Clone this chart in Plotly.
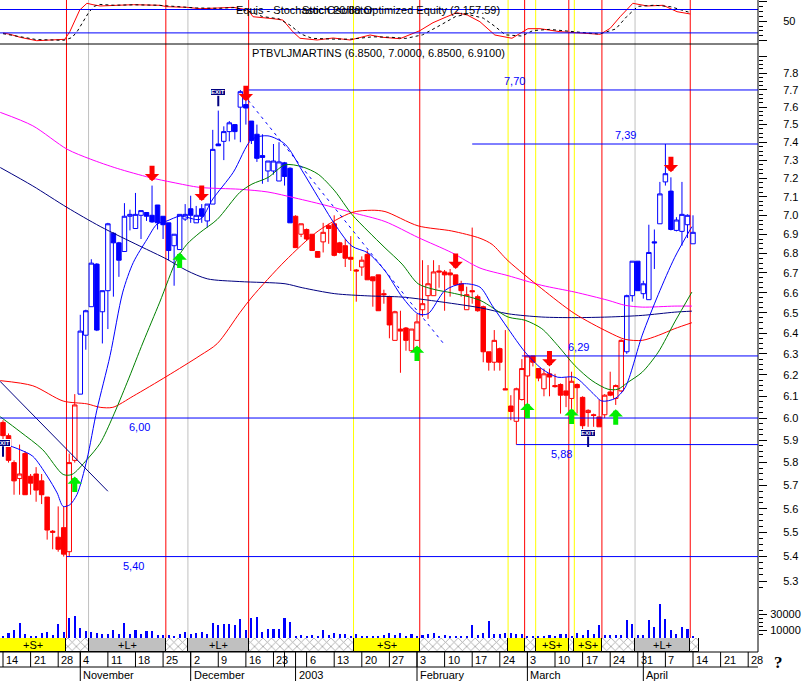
import math
import plotly.graph_objects as go

# ---------------- data ----------------
opens = [5.98, 5.92, 5.80, 5.73, 5.84, 5.74, 5.75, 5.72, 5.65, 5.50,
         5.48, 5.52, 5.42, 5.81, 6.11, 6.39, 6.53, 6.745, 6.505, 6.61,
         6.905, 6.855, 6.81, 6.995, 6.93, 7.0, 7.015, 7.0, 7.055, 6.995,
         6.96, 6.84, 6.82, 6.98, 7.035, 6.96, 7.035, 6.97, 7.06, 7.39,
         7.405, 7.46, 7.5, 7.60, 7.615, 7.52, 7.445, 7.325, 7.24, 7.24,
         7.185, 7.285, 7.255, 6.995, 6.9, 6.925, 6.9, 6.81, 6.86, 6.945,
         6.955, 6.855, 6.84, 6.78, 6.715, 6.73, 6.795, 6.68, 6.69, 6.595,
         6.58, 6.365, 6.42, 6.425, 6.315, 6.365, 6.515, 6.585, 6.585, 6.71,
         6.705, 6.70, 6.69, 6.645, 6.515, 6.61, 6.58, 6.53, 6.31, 6.26,
         6.325, 6.135, 6.055, 5.985, 6.085, 6.195, 6.29, 6.23, 6.135, 6.205,
         6.15, 6.155, 6.125, 6.09, 6.155, 6.095, 6.025, 6.015, 6.005, 6.015,
         6.12, 6.09, 6.125, 6.31, 6.585, 6.76, 6.595, 6.565, 6.86, 6.955,
         7.18, 7.13, 6.92, 6.915, 6.95, 6.85]
highs = [5.99, 5.93, 5.81, 5.88, 5.85, 5.75, 5.78, 5.75, 5.65, 5.51,
         5.61, 5.61, 5.84, 6.11, 6.49, 6.515, 6.77, 6.75, 6.61, 6.96,
         6.91, 6.86, 7.065, 7.03, 7.12, 7.025, 7.015, 7.16, 7.055, 6.995,
         6.96, 6.9, 7.005, 7.06, 7.105, 7.05, 7.06, 7.06, 7.47, 7.58,
         7.49, 7.52, 7.5, 7.70, 7.64, 7.52, 7.50, 7.445, 7.295, 7.39,
         7.40, 7.29, 7.26, 7.0, 6.955, 6.93, 6.9, 6.81, 6.96, 6.955,
         7.0, 6.86, 6.875, 6.89, 6.72, 6.785, 6.815, 6.68, 6.69, 6.615,
         6.585, 6.51, 6.51, 6.43, 6.42, 6.495, 6.765, 6.74, 6.765, 6.74,
         6.715, 6.72, 6.69, 6.66, 6.63, 6.935, 6.59, 6.535, 6.31, 6.415,
         6.33, 6.415, 6.105, 6.14, 6.275, 6.29, 6.29, 6.23, 6.23, 6.23,
         6.205, 6.16, 6.19, 6.215, 6.16, 6.10, 6.04, 6.02, 6.085, 6.11,
         6.215, 6.155, 6.37, 6.59, 6.76, 6.76, 6.66, 6.95, 6.925, 7.18,
         7.39, 7.205, 6.99, 7.18, 7.005, 7.0]
lows = [5.90, 5.80, 5.66, 5.66, 5.66, 5.66, 5.63, 5.62, 5.47, 5.43,
        5.42, 5.40, 5.40, 5.80, 6.11, 6.32, 6.53, 6.41, 6.35, 6.42,
        6.58, 6.68, 6.81, 6.92, 6.93, 6.875, 6.97, 6.96, 6.925, 6.875,
        6.765, 6.635, 6.82, 6.97, 6.96, 6.96, 6.96, 6.935, 7.06, 7.38,
        7.30, 7.405, 7.415, 7.40, 7.50, 7.39, 7.29, 7.17, 7.18, 7.22,
        7.185, 7.16, 6.96, 6.83, 6.885, 6.865, 6.815, 6.78, 6.805, 6.85,
        6.785, 6.80, 6.73, 6.71, 6.555, 6.685, 6.665, 6.53, 6.51, 6.545,
        6.375, 6.365, 6.21, 6.315, 6.31, 6.365, 6.48, 6.47, 6.585, 6.625,
        6.51, 6.58, 6.64, 6.58, 6.515, 6.545, 6.505, 6.26, 6.22, 6.22,
        6.22, 6.13, 5.99, 5.88, 6.08, 6.05, 6.24, 6.17, 6.10, 6.10,
        6.14, 6.02, 6.05, 6.035, 6.02, 5.945, 5.96, 5.96, 5.96, 6.0,
        6.10, 6.06, 6.12, 6.30, 6.555, 6.61, 6.57, 6.565, 6.72, 6.955,
        7.16, 6.92, 6.915, 6.84, 6.88, 6.85]
closes = [5.92, 5.81, 5.72, 5.75, 5.66, 5.71, 5.68, 5.66, 5.51, 5.505,
          5.43, 5.41, 5.80, 6.06, 6.41, 6.51, 6.75, 6.415, 6.61, 6.955,
          6.855, 6.765, 6.995, 7.005, 7.005, 7.025, 6.995, 6.965, 6.96, 6.95,
          6.815, 6.9, 7.005, 7.005, 7.0, 7.0, 6.995, 7.06, 7.36, 7.38,
          7.46, 7.51, 7.46, 7.69, 7.595, 7.41, 7.31, 7.315, 7.295, 7.295,
          7.29, 7.21, 6.96, 6.83, 6.955, 6.875, 6.815, 6.78, 6.91, 6.93,
          6.79, 6.805, 6.775, 6.77, 6.71, 6.765, 6.665, 6.66, 6.51, 6.59,
          6.44, 6.505, 6.41, 6.365, 6.42, 6.455, 6.545, 6.645, 6.705, 6.705,
          6.69, 6.69, 6.64, 6.61, 6.59, 6.605, 6.51, 6.31, 6.26, 6.365,
          6.26, 6.13, 6.03, 6.135, 6.23, 6.29, 6.26, 6.185, 6.205, 6.19,
          6.145, 6.105, 6.105, 6.17, 6.14, 5.965, 6.035, 6.012, 5.96, 6.105,
          6.105, 6.15, 6.365, 6.585, 6.76, 6.61, 6.645, 6.805, 6.855, 7.115,
          7.225, 6.925, 6.975, 7.005, 7.0, 6.91]
volumes = [2500, 6400, 9800, 19600, 4700, 1300, 2000, 6400, 7600, 3300,
           17500, 8000, 26000, 28000, 13000, 9000, 8000, 6400, 4700, 5500,
           9800, 5500, 19500, 5500, 9800, 5500, 9000, 9000, 3300, 4200,
           4200, 2500, 5500, 8000, 5500, 6400, 8000, 5500, 19600, 17000,
           17500, 17500, 17000, 23800, 9800, 26000, 26500, 8000, 11500, 11000,
           12000, 26000, 20500, 1300, 3300, 2500, 3300, 2000, 9800, 3300,
           6400, 5500, 5500, 1300, 4700, 2500, 2500, 2500, 2500, 3300,
           6400, 4200, 6400, 2500, 4700, 1300, 4200, 5500, 6400, 2000,
           3300, 2500, 2500, 2500, 2000, 17000, 3300, 6400, 21300, 4700,
           4700, 6400, 6400, 5500, 5500, 2000, 2500, 2500, 2500, 3300,
           2500, 4700, 4700, 2000, 6400, 4200, 9800, 5500, 16200, 4200,
           3300, 4200, 4200, 22500, 18300, 4200, 4200, 22500, 14000, 43800,
           24700, 9800, 5500, 14000, 11500, 1300]

blue_spans = [(14, 52), (113, 125)]   # bars drawn in blue; all others red

# stochastic oscillator (%K red, %D black dashed)
stoch_k_x = [0, 1.3, 3.1, 6.1, 11.2, 12.1, 13.9, 15.2, 16.3, 17.6,
             20.7, 23.6, 28.4, 29.7, 33.3, 35.7, 38.8, 41.7, 44.4, 45.3,
             48.9, 50.7, 52.5, 53.8, 56.9, 59.8, 62.9, 66.5, 68.8, 71.9,
             75.5, 77.9, 80.4, 82.2, 84.1, 86.4, 89.1, 92.2, 95.1, 97.3,
             100.9, 104.5, 108.2, 110.0, 111.8, 114.1, 116.7, 119.6, 122.1, 124.5]
stoch_k = [19.7, 16.4, 8.7, 0, 3.6, 23, 78.7, 95.9, 92.3, 89,
           90.8, 92.3, 90.8, 87.2, 85.6, 82, 83.8, 85.6, 78.7, 61.5,
           56.4, 53, 23, 6.2, 1.8, 6.9, 1.8, 14.6, 8.7, 5.1,
           25.6, 46.2, 61.5, 71.8, 65.9, 48.7, 14.6, 6.2, 30.8, 30.8,
           23.1, 20.5, 16.4, 31.8, 61.5, 95.9, 89, 90.8, 74.4, 68.5]
stoch_d_x = [0, 2, 6, 11, 12.5, 13.5, 14.5, 15.5, 16.5, 17.5,
             20, 24, 28, 31, 35, 39, 42, 45, 47, 50,
             52, 54, 56, 60, 63, 67, 70, 73, 76, 79,
             82, 84, 87, 89, 91, 94, 96, 99, 102, 105,
             108, 111, 113, 115, 118, 121, 123, 124.5]
stoch_d = [18, 13, 3, 1, 8, 25, 50, 72, 88, 93,
           91, 92, 91, 88, 84, 83, 85, 73, 62, 56,
           40, 17, 6, 4, 4, 10, 9, 6, 15, 38,
           62, 68, 58, 38, 15, 12, 26, 29, 25, 20,
           17, 30, 62, 88, 91, 87, 78, 72]

# moving averages (bar index, price)
ma_blue_x = [-0.5, 3.1, 5.4, 8.0, 9.8, 10.9, 12.1, 13.4, 15.2, 17.0,
             19.4, 21.7, 23.6, 26.1, 27.9, 29.7, 32.1, 35.7, 38.0, 41.7,
             45.1, 48.0, 51.1, 54.2, 57.1, 60.1, 63.2, 66.1, 69.2, 72.3,
             75.2, 77.0, 80.1, 83.2, 86.4, 88.6, 91.5, 94.6, 97.6, 100.5,
             103.6, 106.7, 108.5, 110.9, 112.7, 115.8, 118.7, 121.7, 124.8]
ma_blue_y = [5.89, 5.857, 5.828, 5.741, 5.668, 5.61, 5.617, 5.661, 5.813, 6.036,
             6.292, 6.603, 6.753, 6.874, 6.953, 6.97, 6.996, 6.979, 7.087, 7.232,
             7.417, 7.436, 7.389, 7.241, 7.096, 6.953, 6.838, 6.803, 6.711, 6.579,
             6.495, 6.495, 6.612, 6.645, 6.628, 6.537, 6.422, 6.308, 6.229, 6.189,
             6.189, 6.118, 6.078, 6.09, 6.14, 6.39, 6.59, 6.78, 6.94]
ma_green_x = [-0.5, 3.1, 7.2, 10.9, 12.5, 15.2, 17.6, 19.9, 22.5, 25.4,
              28.4, 31.5, 33.3, 35.7, 38.8, 42.9, 45.1, 48.0, 51.1, 54.2,
              57.1, 60.1, 63.2, 66.1, 69.2, 72.3, 75.2, 78.3, 81.3, 86.4,
              91.5, 94.6, 97.6, 100.5, 103.6, 106.7, 109.6, 111.4, 113.2, 115.8,
              118.7, 121.7, 124.8]
ma_green_y = [6.006, 5.938, 5.857, 5.748, 5.748, 5.813, 5.886, 6.006, 6.165, 6.357,
              6.553, 6.77, 6.847, 6.909, 6.978, 7.123, 7.168, 7.204, 7.274, 7.263,
              7.222, 7.131, 7.005, 6.917, 6.829, 6.745, 6.645, 6.615, 6.599, 6.562,
              6.479, 6.463, 6.422, 6.34, 6.244, 6.173, 6.133, 6.133, 6.165, 6.213,
              6.308, 6.455, 6.603]
ma_red_x = [-0.5, 5.4, 10.9, 15.2, 17.6, 19.9, 23.6, 29.7, 35.7, 38.8,
            42.9, 45.1, 51.1, 57.1, 63.2, 66.8, 69.2, 75.2, 81.3, 86.4,
            88.6, 91.5, 97.6, 103.6, 109.6, 112.7, 115.8, 118.7, 121.7, 124.8]
ma_red_y = [6.173, 6.149, 6.078, 6.065, 6.049, 6.049, 6.101, 6.194, 6.292, 6.349,
            6.5, 6.578, 6.761, 6.917, 7.015, 7.027, 7.02, 6.944, 6.917, 6.879,
            6.847, 6.762, 6.62, 6.495, 6.406, 6.37, 6.365, 6.389, 6.422, 6.451]
ma_navy_x = [-0.5, 5.4, 11.6, 17.6, 24.8, 29.7, 33.3, 37.0, 42.9, 51.1,
             54.2, 60.1, 66.1, 72.3, 78.3, 86.4, 91.5, 97.6, 103.6, 109.6,
             115.8, 121.7, 124.8]
ma_navy_y = [7.259, 7.158, 7.042, 6.941, 6.838, 6.77, 6.712, 6.67, 6.656, 6.645,
             6.625, 6.595, 6.584, 6.578, 6.558, 6.525, 6.495, 6.479, 6.476, 6.479,
             6.487, 6.503, 6.508]
ma_magenta_x = [-0.5, 5.4, 11.6, 15.8, 20.7, 26.6, 30.8, 35.7, 42.9, 48.0,
                52.9, 58.9, 63.2, 69.2, 75.2, 81.3, 86.4, 91.5, 97.6, 103.6,
                109.6, 112.7, 115.8, 121.7, 124.8]
ma_magenta_y = [7.57, 7.493, 7.361, 7.306, 7.254, 7.204, 7.177, 7.15, 7.14, 7.125,
                7.093, 7.05, 7.015, 6.967, 6.883, 6.804, 6.725, 6.686, 6.637, 6.603,
                6.562, 6.537, 6.528, 6.533, 6.533]

trend_solid_x = [-0.54, 19.0]
trend_solid_y = [6.17, 5.675]
trend_dash_x = [44.4, 79.8]
trend_dash_y = [7.64, 6.35]

level_values = [7.70, 7.39, 6.29, 6.00, 5.88, 5.40]
level_start = [44.5, 85.0, 94.0, -0.54, 93.0, 11.5]
level_label_x = [92.75, 112.7, 104.2, 24.8, 101.1, 23.55]
level_label_above = [True, True, True, False, False, False]

sell_x = [27, 36, 44, 82, 99, 121]
sell_y = [7.184, 7.076, 7.634, 6.72, 6.24, 7.233]
buy_x = [13, 32, 75, 95, 103, 111]
buy_y = [5.739, 6.805, 6.34, 6.07, 6.044, 6.04]
exit_x = [0, 39, 106]
exit_y = [5.826, 7.605, 5.869]

band_edges = [-0.54, 11.5, 15.5, 29.5, 33.5, 44.5, 63.5, 75.5, 91.5, 94.5,
              96.5, 102.5, 103.5, 108.5, 114.5, 124.5, 126.0]
band_kinds = ['S', 'X', 'L', 'X', 'L', 'X', 'S', 'X', 'S', 'X', 'S', 'X', 'S', 'X', 'L', 'X']

day_tick_idx = [0, 5, 10, 14, 19, 24, 29, 34, 39, 44, 49, 51, 55, 60, 65, 70, 75, 80, 85,
                90, 95, 100, 105, 110, 115, 120, 125, 130, 135]
day_tick_labels = ['14', '21', '28', '4', '11', '18', '25', '2', '9', '16', '23', '', '6',
                   '13', '20', '27', '3', '10', '17', '24', '3', '10', '17', '24', '31',
                   '7', '14', '21', '28']
month_idx = [14, 34, 53, 75, 95, 116]
month_labels = ['November', 'December', '2003', 'February', 'March', 'April']

price_ticks = [5.3, 5.4, 5.5, 5.6, 5.7, 5.8, 5.9, 6.0, 6.1, 6.2, 6.3, 6.4, 6.5,
               6.6, 6.7, 6.8, 6.9, 7.0, 7.1, 7.2, 7.3, 7.4, 7.5, 7.6, 7.7, 7.8, 7.9]
volume_ticks = [10000, 30000]
title_text = "PTBVLJMARTINS (6.8500, 7.0000, 6.8500, 6.9100)"
stoch_text_a = "Equis - Stochastic Oscillator"
stoch_text_b = "Stoch 20/80 Optimized Equity (2,157.59)"

# ---------------- geometry ----------------
W, H = 804, 681
PLOT_W = 758
PX0, PXD = 3.0, 5.52
X_MIN = -PX0 / PXD
X_MAX = (PLOT_W - PX0) / PXD
DECADE_PX = 3028.0
LOG_REF = math.log10(7.8)
REF_PX = 73.0


def py(px):
    return 1 - px / H


LOG_TOP = LOG_REF + (REF_PX - 44) / DECADE_PX
LOG_BOT = LOG_REF - (638 - REF_PX) / DECADE_PX
STOCH_RANGE = [(40.7 - 44) / 0.39, 40.7 / 0.39]
VOL_PER_PX = 1274.0

RED, BLUE, NAVY = '#FF0000', '#0000FF', '#000080'
FONT = 'Liberation Sans, Arial, sans-serif'

N = len(closes)
blue_set = set()
for a, b in blue_spans:
    blue_set.update(range(a, b + 1))
blue_idx = [i for i in range(N) if i in blue_set]
red_idx = [i for i in range(N) if i not in blue_set]

fig = go.Figure()

# candles
for idxs, col in ((red_idx, RED), (blue_idx, BLUE)):
    fig.add_trace(go.Candlestick(
        x=idxs,
        open=[opens[i] for i in idxs], high=[highs[i] for i in idxs],
        low=[lows[i] for i in idxs], close=[closes[i] for i in idxs],
        increasing=dict(line=dict(color=col, width=1), fillcolor='white'),
        decreasing=dict(line=dict(color=col, width=1), fillcolor=col),
        whiskerwidth=0, xaxis='x', yaxis='y', hoverinfo='skip', showlegend=False))

# moving averages
for xs, ys, col in ((ma_magenta_x, ma_magenta_y, '#FF00FF'),
                    (ma_navy_x, ma_navy_y, NAVY),
                    (ma_red_x, ma_red_y, RED),
                    (ma_green_x, ma_green_y, '#008000'),
                    (ma_blue_x, ma_blue_y, BLUE)):
    fig.add_trace(go.Scatter(x=xs, y=ys, mode='lines', yaxis='y',
                             line=dict(color=col, width=1, shape='spline', smoothing=0.8),
                             hoverinfo='skip', showlegend=False))

fig.add_trace(go.Scatter(x=trend_solid_x, y=trend_solid_y, mode='lines', yaxis='y',
                         line=dict(color=NAVY, width=1), hoverinfo='skip', showlegend=False))
fig.add_trace(go.Scatter(x=trend_dash_x, y=trend_dash_y, mode='lines', yaxis='y',
                         line=dict(color=BLUE, width=1, dash='3px,4px'),
                         hoverinfo='skip', showlegend=False))

# volume
fig.add_trace(go.Bar(x=list(range(N)), y=volumes, width=0.38, yaxis='y3',
                     marker=dict(color=BLUE, line=dict(width=0)),
                     hoverinfo='skip', showlegend=False))

# stochastic
fig.add_trace(go.Scatter(x=stoch_k_x, y=stoch_k, mode='lines', yaxis='y2',
                         line=dict(color=RED, width=1), hoverinfo='skip', showlegend=False))
fig.add_trace(go.Scatter(x=stoch_d_x, y=stoch_d, mode='lines', yaxis='y2',
                         line=dict(color='black', width=1, dash='3px,3px'),
                         hoverinfo='skip', showlegend=False))

# signal bands
kind_color = {'S': '#FFFF00', 'L': '#C0C0C0', 'X': 'white'}
centers = [(band_edges[k] + band_edges[k + 1]) / 2 for k in range(len(band_kinds))]
widths = [band_edges[k + 1] - band_edges[k] for k in range(len(band_kinds))]
fig.add_trace(go.Bar(
    x=centers, y=[1] * len(centers), base=0, width=widths, yaxis='y4',
    marker=dict(color=[kind_color[k] for k in band_kinds],
                line=dict(color='black', width=1),
                pattern=dict(shape=['x' if k == 'X' else '' for k in band_kinds],
                             fgcolor=RED, size=6, solidity=0.25)),
    hoverinfo='skip', showlegend=False))

shapes = []
line_color = {'S': '#FFFF00', 'L': '#C0C0C0', 'X': RED}
for k in range(1, len(band_kinds)):
    shapes.append(dict(type='line', xref='x', yref='paper', x0=band_edges[k], x1=band_edges[k],
                       y0=py(638), y1=1, layer='below',
                       line=dict(color=line_color[band_kinds[k]], width=1)))
# panel separator and stoch levels
shapes.append(dict(type='line', xref='paper', yref='paper', x0=0, x1=1, y0=py(44), y1=py(44),
                   line=dict(color='black', width=1)))
for lv in (80, 20):
    shapes.append(dict(type='line', xref='paper', yref='y2', x0=0, x1=1, y0=lv, y1=lv,
                       line=dict(color=BLUE, width=1)))
# right axis line
shapes.append(dict(type='line', xref='paper', yref='paper', x0=1, x1=1, y0=py(652), y1=1,
                   line=dict(color='black', width=1)))
# price levels
for v, s in zip(level_values, level_start):
    shapes.append(dict(type='line', xref='x', yref='y', x0=s, x1=X_MAX, y0=v, y1=v,
                       layer='above', line=dict(color=BLUE, width=1)))
# date rows
for ypx in (652, 667):
    shapes.append(dict(type='line', xref='paper', yref='paper', x0=0, x1=1, y0=py(ypx), y1=py(ypx),
                       line=dict(color='black', width=1)))
for t in day_tick_idx:
    shapes.append(dict(type='line', xref='x', yref='paper', x0=t, x1=t, y0=py(667), y1=py(652),
                       line=dict(color='black', width=1)))
for t in month_idx:
    shapes.append(dict(type='line', xref='x', yref='paper', x0=t, x1=t, y0=0, y1=py(652),
                       line=dict(color='black', width=1)))

ann = []
for t, lab in zip(day_tick_idx, day_tick_labels):
    ann.append(dict(x=t, xref='x', y=py(660), yref='paper', text=lab, showarrow=False,
                    xanchor='left', yanchor='middle', xshift=1, font=dict(size=11)))
for t, lab in zip(month_idx, month_labels):
    ann.append(dict(x=t, xref='x', y=py(674.5), yref='paper', text=lab, showarrow=False,
                    xanchor='left', yanchor='middle', xshift=1, font=dict(size=11)))
for k, kind in enumerate(band_kinds):
    if kind in ('S', 'L') and widths[k] >= 4:
        ann.append(dict(x=centers[k], xref='x', y=py(645), yref='paper', text='+%s+' % kind,
                        showarrow=False, xanchor='center', yanchor='middle', font=dict(size=11)))
for v, lx, above in zip(level_values, level_label_x, level_label_above):
    ann.append(dict(x=lx, xref='x', y=math.log10(v), yref='y',
                    text=('%.2f' % v).replace('.', ','), showarrow=False,
                    yshift=9 if above else -9, font=dict(size=11, color=BLUE)))
for x, y in zip(sell_x, sell_y):
    ann.append(dict(x=x, xref='x', y=math.log10(y), yref='y', text='', showarrow=True,
                    ax=0, ay=-17, arrowhead=1, arrowsize=0.48, arrowwidth=5, arrowcolor=RED))
for x, y in zip(buy_x, buy_y):
    ann.append(dict(x=x, xref='x', y=math.log10(y), yref='y', text='', showarrow=True,
                    ax=0, ay=17, arrowhead=1, arrowsize=0.48, arrowwidth=5, arrowcolor='#00EE00'))
for x, y in zip(exit_x, exit_y):
    ann.append(dict(x=x, xref='x', y=math.log10(y), yref='y', text='<b>EXIT</b>', showarrow=True,
                    ax=0, ay=-14, arrowhead=0, arrowwidth=2, arrowcolor=NAVY,
                    font=dict(size=6, color='white'), bgcolor=NAVY, bordercolor='white',
                    borderwidth=1, borderpad=0))
ann.append(dict(x=250 / PLOT_W, xref='paper', y=py(53), yref='paper', text=title_text,
                showarrow=False, xanchor='left', yanchor='middle', font=dict(size=11)))
ann.append(dict(x=234 / PLOT_W, xref='paper', y=py(10), yref='paper', text=stoch_text_a,
                showarrow=False, xanchor='left', yanchor='middle', font=dict(size=11)))
ann.append(dict(x=300 / PLOT_W, xref='paper', y=py(10), yref='paper', text=stoch_text_b,
                showarrow=False, xanchor='left', yanchor='middle', font=dict(size=11)))
ann.append(dict(x=778 / PLOT_W, xref='paper', y=py(662), yref='paper', text='<b>?</b>',
                showarrow=False, xanchor='center', yanchor='middle',
                font=dict(size=17, family='Liberation Serif, serif')))

minor_price = [round(5.275 + 0.025 * k, 3) for k in range(106)]
minor_price = [v for v in minor_price if abs(v * 10 - round(v * 10)) > 1e-6]

axis_common = dict(showgrid=False, zeroline=False, showline=False, side='right', anchor='x',
                   ticks='outside', ticklen=8, tickcolor='black', tickwidth=1, fixedrange=True)

fig.update_layout(
    width=W, height=H, margin=dict(l=0, r=W - PLOT_W, t=0, b=0, pad=0),
    paper_bgcolor='white', plot_bgcolor='rgba(0,0,0,0)',
    showlegend=False, barmode='overlay', bargap=0,
    boxmode='overlay', boxgap=0.1, boxgroupgap=0.1,
    font=dict(family=FONT, size=11, color='black'),
    xaxis=dict(range=[X_MIN, X_MAX], domain=[0, 1], visible=False,
               rangeslider=dict(visible=False), fixedrange=True),
    yaxis=dict(type='log', range=[LOG_BOT, LOG_TOP], domain=[py(638), py(44)],
               tickmode='array', tickvals=price_ticks,
               ticktext=['%.1f' % v if v < 7.85 else '' for v in price_ticks],
               ticklabelstandoff=14,
               minor=dict(tickmode='array', tickvals=minor_price, ticks='outside',
                          ticklen=4, tickcolor='black'),
               **axis_common),
    yaxis2=dict(range=STOCH_RANGE, domain=[py(44), 1], tickmode='array',
                tickvals=[0, 50, 100], ticktext=['', '50', ''], ticklabelstandoff=14,
                minor=dict(tickmode='array', tickvals=[12.5, 25, 37.5, 62.5, 75, 87.5],
                           ticks='outside', ticklen=4, tickcolor='black'),
                **axis_common),
    yaxis3=dict(range=[0, (638 - 590) * VOL_PER_PX], domain=[py(638), py(590)],
                tickmode='array', tickvals=volume_ticks,
                ticktext=[str(v) for v in volume_ticks], ticklabelstandoff=1,
                minor=dict(tickmode='array', tickvals=[5000, 15000, 20000, 25000, 35000],
                           ticks='outside', ticklen=4, tickcolor='black'),
                **axis_common),
    yaxis4=dict(range=[0, 1], domain=[py(652), py(638)], visible=False, anchor='x',
                fixedrange=True),
    shapes=shapes, annotations=ann,
)

fig.write_html(
    "out.html",
    config={'displayModeBar': False},
    post_script="document.body.style.margin='0';document.body.style.padding='0';"
                "document.body.style.overflow='hidden';",
)
